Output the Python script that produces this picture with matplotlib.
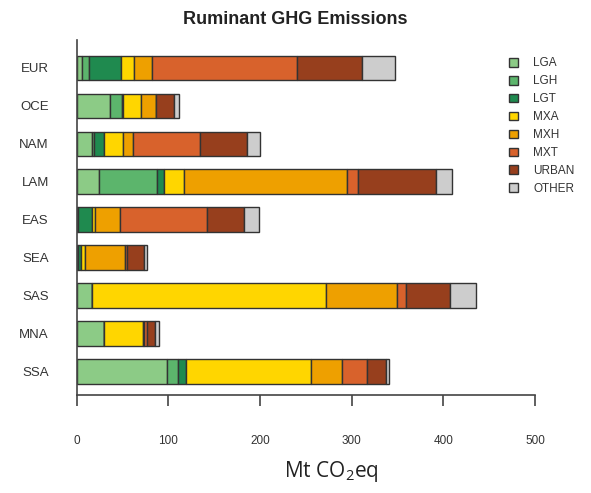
import matplotlib
matplotlib.use("Agg")
import matplotlib.pyplot as plt
import numpy as np

regions = ["EUR", "OCE", "NAM", "LAM", "EAS", "SEA", "SAS", "MNA", "SSA"]
categories = ["LGA", "LGH", "LGT", "MXA", "MXH", "MXT", "URBAN", "OTHER"]

LGA   = [5.5, 36.4, 16.4, 24.7, 0.5, 0.5, 16.4, 30.2, 98.2]
LGH   = [8.3, 12.7, 2.5, 63.3, 1.0, 0.8, 0.3, 0.0, 12.7]
LGT   = [34.2, 1.8, 11.3, 7.3, 15.0, 3.5, 0.3, 0.0, 8.4]
MXA   = [14.5, 19.3, 20.7, 22.2, 3.6, 4.5, 255.0, 41.8, 136.3]
MXH   = [20.0, 16.3, 10.2, 177.0, 27.3, 43.4, 77.0, 1.0, 33.4]
MXT   = [158.2, 0.5, 73.4, 12.0, 94.5, 1.8, 10.0, 3.5, 28.0]
URBAN = [70.3, 19.2, 51.7, 85.5, 40.7, 19.0, 48.3, 9.0, 20.5]
OTHER = [36.3, 5.8, 13.8, 17.0, 16.5, 2.9, 28.0, 4.3, 3.5]

series = [LGA, LGH, LGT, MXA, MXH, MXT, URBAN, OTHER]
colors = ["#8ccb86", "#5cb56c", "#1f8a4f", "#ffd600", "#eea000",
          "#d8622c", "#973f1d", "#cdcdcd"]

plt.rcParams['font.family'] = ['Liberation Sans', 'DejaVu Sans']
plt.rcParams['mathtext.fontset'] = 'custom'
plt.rcParams['mathtext.rm'] = 'Open Sans'
plt.rcParams['mathtext.it'] = 'Open Sans'

fig = plt.figure(figsize=(5.91, 4.93), dpi=100)
ax = fig.add_axes([0.1298, 0.1988, 0.7755, 0.72])

y = np.arange(len(regions))
left = np.zeros(len(regions))
handles = []
for cat, vals, c in zip(categories, series, colors):
    vals = np.array(vals)
    b = ax.barh(y, vals, left=left, height=0.64, color=c,
                edgecolor="#333333", linewidth=1.0, label=cat)
    handles.append(b)
    left += vals

ax.set_xlim(0, 500)
ax.set_ylim(8.62, -0.73)
ax.set_yticks(y)
ax.set_yticklabels(regions, fontsize=9.5, color="#333333")
ax.tick_params(axis='y', length=0, pad=20)
ax.set_xticks([0, 100, 200, 300, 400, 500])
ax.tick_params(axis='x', length=8, width=1.2, pad=21, labelsize=8.5,
               labelcolor="#333333", color="#444444")
for s in ["top", "right"]:
    ax.spines[s].set_visible(False)
for s in ["left", "bottom"]:
    ax.spines[s].set_color("#444444")
    ax.spines[s].set_linewidth(1.2)

fig.text(0.56, 1 - 471 / 493, "Mt CO$_2$eq", ha="center", va="center",
         fontsize=15, family="Open Sans", color="#222222")

fig.text(0.499, 1 - 20 / 493, "Ruminant GHG Emissions", ha="center",
         va="center", fontsize=13, fontweight="bold", color="#222222")

leg = fig.legend(handles=handles, labels=categories, loc="upper left",
                 bbox_to_anchor=(0.843, 0.905), frameon=False,
                 fontsize=8.5, handlelength=0.75, handleheight=0.75,
                 handletextpad=1.3, labelspacing=0.5)
for t in leg.get_texts():
    t.set_color("#333333")

fig.savefig("out.png", dpi=100)
